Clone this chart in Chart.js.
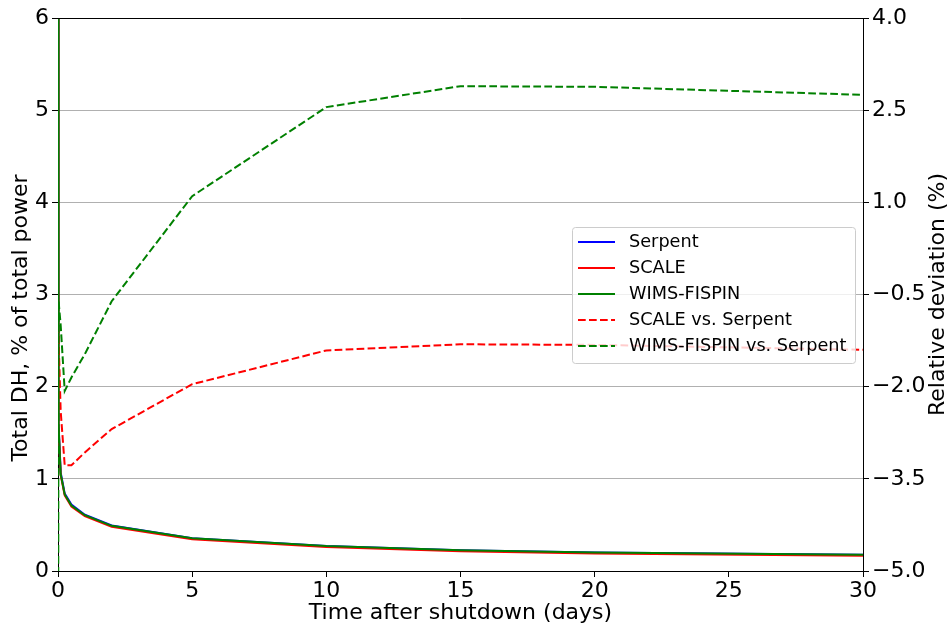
<!DOCTYPE html>
<html lang="en">
<head>
<meta charset="UTF-8">
<title>Total decay heat after shutdown</title>
<script src="https://cdn.jsdelivr.net/npm/chart.js"></script>
<style>
  body { margin: 0; background: #fff; }
</style>
</head>
<body>
<canvas id="dhChart" width="951" height="628"></canvas>
<script>
// time after shutdown (days)
const days = [0, 0.02, 0.1, 0.25, 0.5, 1, 2, 5, 10, 15, 20, 30];

// total decay heat, % of total power (left axis)
const serpent = [7.0, 1.6, 1.07, 0.84, 0.72, 0.61, 0.495, 0.355, 0.27, 0.225, 0.2, 0.175];
const scaleDH = [6.95, 1.55, 1.04, 0.82, 0.70, 0.595, 0.48, 0.345, 0.26, 0.215, 0.19, 0.165];
const wims = [7.0, 1.58, 1.05, 0.83, 0.71, 0.605, 0.49, 0.355, 0.27, 0.225, 0.2, 0.175];

// relative deviation from Serpent, % (right axis)
const scaleVsSerpent = [-1.0, -1.2, -2.4, -3.28, -3.28, -3.07, -2.69, -1.96, -1.41, -1.31, -1.32, -1.40];
const wimsVsSerpent = [-9, -0.6, -1.0, -2.07, -1.85, -1.47, -0.61, 1.1, 2.55, 2.89, 2.88, 2.75];

const xTicks = [0, 5, 10, 15, 20, 25, 30];

const FONT = 'DejaVu Sans';
const DASH = [7.7, 3.3];

const toPts = arr => days.map((d, i) => ({ x: d, y: arr[i] }));
const minus = v => (v < 0 ? '\u2212' : '') + Math.abs(v).toFixed(1);

// legend box drawn inside the plot, on top of the lines
const boxLegend = {
    id: 'boxLegend',
    afterDatasetsDraw(chart) {
        const ctx = chart.ctx;
        const x = 572, y = 227, w = 283, h = 136;
        ctx.save();
        ctx.beginPath();
        ctx.roundRect(x + 0.5, y + 0.5, w, h, 3);
        ctx.fillStyle = 'rgba(255,255,255,0.8)';
        ctx.fill();
        ctx.strokeStyle = '#cccccc';
        ctx.lineWidth = 1;
        ctx.stroke();

        ctx.font = '17.7px "' + FONT + '"';
        ctx.textBaseline = 'middle';
        ctx.textAlign = 'left';
        chart.data.datasets.forEach((ds, i) => {
            const ry = y + 15 + i * 26;
            ctx.beginPath();
            ctx.setLineDash(ds.borderDash || []);
            ctx.strokeStyle = ds.borderColor;
            ctx.lineWidth = 2;
            ctx.moveTo(578, ry);
            ctx.lineTo(615, ry);
            ctx.stroke();
            ctx.setLineDash([]);
            ctx.fillStyle = '#000';
            ctx.fillText(ds.label, 629, ry);
        });
        ctx.restore();
    }
};

// top spine and the two y-axis titles (both read bottom to top)
const frame = {
    id: 'frame',
    afterDraw(chart) {
        const { ctx, chartArea: a } = chart;
        ctx.save();
        ctx.strokeStyle = '#000';
        ctx.lineWidth = 1;
        ctx.beginPath();
        ctx.moveTo(a.left, a.top + 0.5);
        ctx.lineTo(a.right, a.top + 0.5);
        ctx.stroke();

        ctx.font = '22px "' + FONT + '"';
        ctx.fillStyle = '#000';
        ctx.textAlign = 'center';
        ctx.textBaseline = 'middle';

        ctx.save();
        ctx.translate(21, 318);
        ctx.rotate(-Math.PI / 2);
        ctx.fillText('Total DH, % of total power', 0, 0);
        ctx.restore();

        ctx.translate(938, (a.top + a.bottom) / 2);
        ctx.rotate(-Math.PI / 2);
        ctx.fillText('Relative deviation (%)', 0, 0);
        ctx.restore();
    }
};

const ctx = document.getElementById('dhChart').getContext('2d');
new Chart(ctx, {
    type: 'line',
    data: {
        datasets: [{
            label: 'Serpent',
            data: toPts(serpent),
            borderColor: 'blue',
            yAxisID: 'y',
            order: 5
        }, {
            label: 'SCALE',
            data: toPts(scaleDH),
            borderColor: 'red',
            yAxisID: 'y',
            order: 4
        }, {
            label: 'WIMS-FISPIN',
            data: toPts(wims),
            borderColor: 'green',
            yAxisID: 'y',
            order: 3
        }, {
            label: 'SCALE vs. Serpent',
            data: toPts(scaleVsSerpent),
            borderColor: 'red',
            borderDash: DASH,
            yAxisID: 'y2',
            order: 2
        }, {
            label: 'WIMS-FISPIN vs. Serpent',
            data: toPts(wimsVsSerpent),
            borderColor: 'green',
            borderDash: DASH,
            yAxisID: 'y2',
            order: 1
        }]
    },
    options: {
        responsive: false,
        animation: false,
        events: [],
        layout: { padding: { top: 18, left: 0, right: 0, bottom: 0 } },
        elements: {
            point: { radius: 0 },
            line: { borderWidth: 2, tension: 0, fill: false }
        },
        plugins: {
            legend: { display: false },
            tooltip: { enabled: false }
        },
        scales: {
            x: {
                type: 'linear',
                min: 0,
                max: 30,
                afterBuildTicks: s => { s.ticks = xTicks.map(v => ({ value: v })); },
                afterFit: s => { s.height = 57; },
                grid: { drawOnChartArea: false, tickLength: 6, tickColor: '#000' },
                border: { color: '#000', width: 1 },
                ticks: { color: '#000', padding: 1, maxRotation: 0, font: { family: FONT, size: 22 } },
                title: {
                    display: true,
                    text: 'Time after shutdown (days)',
                    color: '#000',
                    padding: { top: 0, bottom: 2 },
                    font: { family: FONT, size: 22 }
                }
            },
            y: {
                position: 'left',
                min: 0,
                max: 6,
                afterFit: s => { s.width = 58; },
                grid: { color: '#b0b0b0', lineWidth: 1, tickLength: 6, tickColor: '#000' },
                border: { color: '#000', width: 1 },
                ticks: { stepSize: 1, color: '#000', padding: 3, font: { family: FONT, size: 22 } }
            },
            y2: {
                position: 'right',
                min: -5,
                max: 4,
                afterFit: s => { s.width = 88; },
                grid: { drawOnChartArea: false, tickLength: 6, tickColor: '#000' },
                border: { color: '#000', width: 1 },
                ticks: { stepSize: 1.5, color: '#000', padding: 3, font: { family: FONT, size: 22 }, callback: v => minus(v) }
            }
        }
    },
    plugins: [boxLegend, frame]
});
</script>
</body>
</html>
